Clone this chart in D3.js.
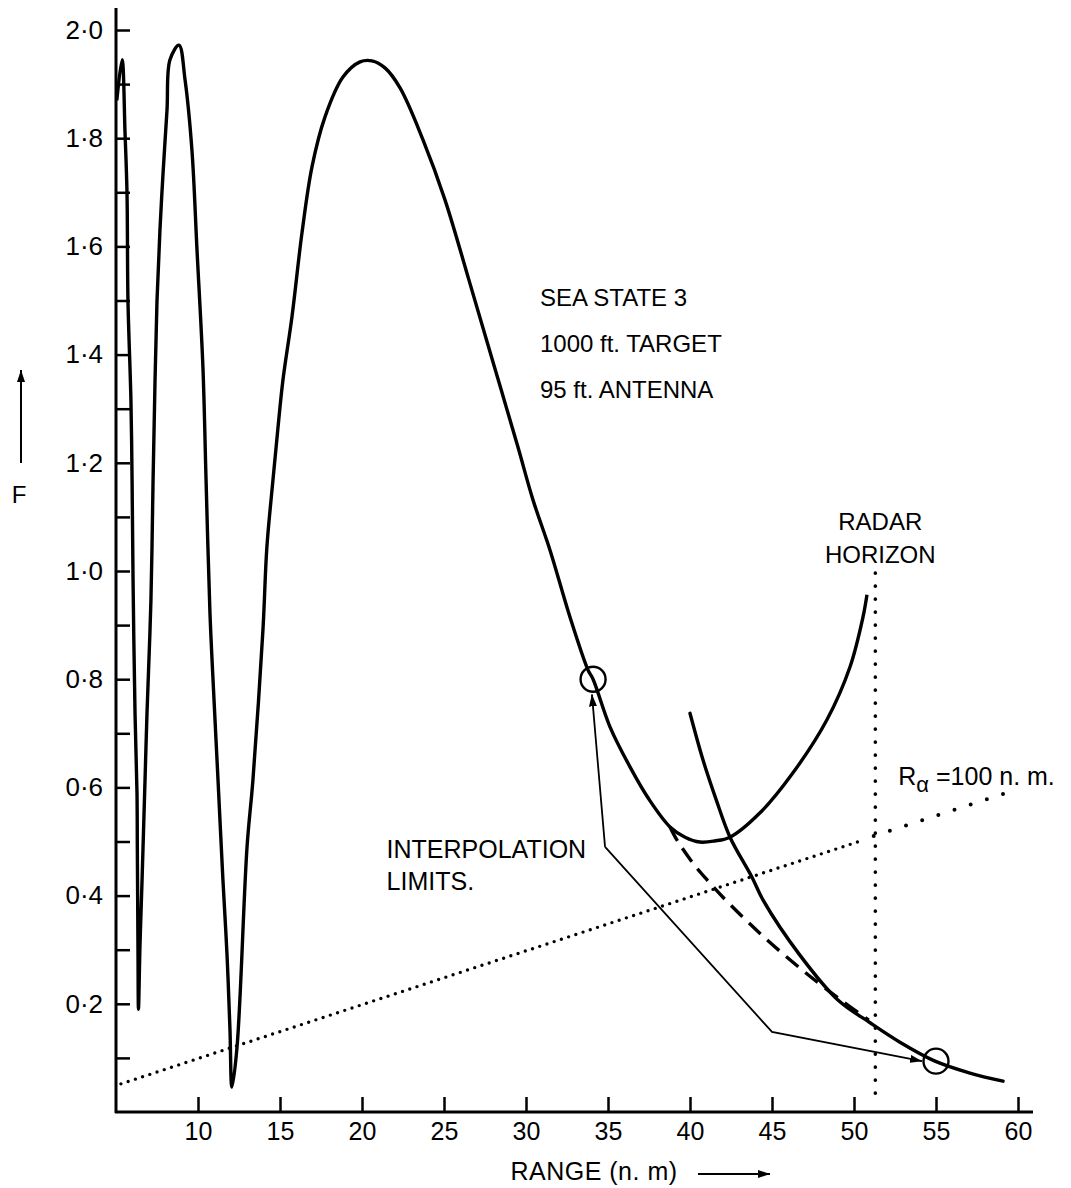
<!DOCTYPE html>
<html>
<head>
<meta charset="utf-8">
<script src="https://cdn.jsdelivr.net/npm/d3@7"></script>
<style>
  body { margin: 0; background: #fff; }
  text { font-family: "Liberation Sans", Arial, sans-serif; fill: #000; }
</style>
</head>
<body>
<svg width="1071" height="1188"></svg>
<script>
// tick values
const xTicks = [10, 15, 20, 25, 30, 35, 40, 45, 50, 55, 60];
const yMajor = [0.2, 0.4, 0.6, 0.8, 1.0, 1.2, 1.4, 1.6, 1.8, 2.0];
const yMinor = [0.1, 0.3, 0.5, 0.7, 0.9, 1.1, 1.3, 1.5, 1.7, 1.9];

// pattern propagation factor F vs range (n.m)
const mainCurve = [
  [5.05, 1.87], [5.37, 1.945], [5.55, 1.81], [5.67, 1.70], [5.73, 1.50], [5.91, 1.316],
  [5.98, 1.168], [6.04, 0.983], [6.16, 0.737], [6.28, 0.59], [6.3, 0.49], [6.34, 0.305],
  [6.37, 0.19], [6.46, 0.305], [6.59, 0.43], [6.77, 0.614], [6.89, 0.737], [7.13, 0.946],
  [7.26, 1.168], [7.38, 1.353], [7.5, 1.50], [7.68, 1.63], [7.87, 1.736], [8.11, 1.852],
  [8.29, 1.945], [8.84, 1.972], [9.21, 1.908], [9.63, 1.778], [9.94, 1.593], [10.3, 1.377],
  [10.49, 1.17], [10.73, 0.922], [10.98, 0.76], [11.22, 0.614], [11.52, 0.429], [11.77, 0.29],
  [11.95, 0.152], [12.07, 0.046], [12.38, 0.12], [12.99, 0.49], [13.35, 0.614], [13.96, 0.891],
  [14.2, 1.044], [14.57, 1.168], [14.88, 1.266], [15.18, 1.353], [15.73, 1.47], [16.34, 1.625],
  [16.95, 1.747], [17.74, 1.839], [18.84, 1.913], [19.88, 1.941], [20.6, 1.943], [21.4, 1.93],
  [22.32, 1.893], [23.72, 1.797], [25.06, 1.686], [26.5, 1.54], [28, 1.385], [29.5, 1.23],
  [30.43, 1.131], [31.46, 1.039], [32.68, 0.915], [33.78, 0.817], [34.09, 0.80], [35.12, 0.712],
  [36.34, 0.638], [37.5, 0.578], [38.78, 0.527], [39.7, 0.508], [40.6, 0.499], [41.5, 0.501],
  [42.44, 0.508], [44.27, 0.553], [46.28, 0.627], [48.35, 0.725], [49.76, 0.823], [50.55, 0.915],
  [50.79, 0.956]
];
const steepCurve = [
  [40.0, 0.737], [40.79, 0.651], [41.6, 0.577], [42.44, 0.508], [43.78, 0.434], [44.45, 0.392],
  [46.7, 0.29], [49.02, 0.207], [50.98, 0.165], [52.8, 0.129], [54.94, 0.094], [57.07, 0.072],
  [59.09, 0.057]
];
const dashedCurve = [
  [38.78, 0.527], [39.2, 0.503], [40.18, 0.46], [41.04, 0.429], [42.01, 0.397], [44.27, 0.33],
  [46.7, 0.266], [49.02, 0.211], [50.9, 0.17]
];
const rAlphaNear = [[5.3, 0.052], [50.5, 0.502]];
const rAlphaFar = [[51.2, 0.51], [59.3, 0.59]];
const horizonRange = 51.3;
const horizonF = [0.996, 0.022];
const limitPoints = [[34.09, 0.80], [55.0, 0.094]];
// annotation leader lines
const leaderUp = [[34.82, 0.49], [34.02, 0.772]];
const leaderDown = [[34.82, 0.49], [45.0, 0.148], [54.15, 0.094]];

const svg = d3.select('svg');
const x = d3.scaleLinear().domain([5, 60]).range([116, 1018]);
const y = d3.scaleLinear().domain([0, 2]).range([1112, 30]);

const defs = svg.append('defs');
defs.append('marker')
  .attr('id', 'head')
  .attr('viewBox', '0 0 12 8')
  .attr('refX', 12).attr('refY', 4)
  .attr('markerWidth', 12).attr('markerHeight', 8)
  .attr('markerUnits', 'userSpaceOnUse')
  .attr('orient', 'auto')
  .append('path').attr('d', 'M0,0 L12,4 L0,8 Z').attr('fill', '#000');

const fmt = d => d.toFixed(1).replace('.', '\u00b7');

// y axis
const yAxisG = svg.append('g').attr('transform', `translate(${x(5)},0)`)
  .call(d3.axisLeft(y).tickValues(yMajor).tickSize(-14).tickPadding(13).tickFormat(fmt));
svg.append('g').attr('transform', `translate(${x(5)},0)`)
  .call(d3.axisLeft(y).tickValues(yMinor).tickSize(-14).tickFormat(''));
svg.selectAll('.domain').remove();
svg.selectAll('.tick line').attr('stroke', '#000').attr('stroke-width', 2.5);
yAxisG.selectAll('text').attr('font-size', 26);

// x axis
const xAxisG = svg.append('g').attr('transform', `translate(0,${y(0)})`)
  .call(d3.axisBottom(x).tickValues(xTicks).tickSize(-15).tickPadding(10).tickFormat(d3.format('d')));
xAxisG.select('.domain').remove();
xAxisG.selectAll('.tick line').attr('stroke', '#000').attr('stroke-width', 2.5);
xAxisG.selectAll('text').attr('font-size', 25);

// axis lines
svg.append('line').attr('x1', x(5)).attr('x2', x(5)).attr('y1', y(0) + 1).attr('y2', 8)
  .attr('stroke', '#000').attr('stroke-width', 3);
svg.append('line').attr('x1', x(5) - 1).attr('x2', 1033).attr('y1', y(0)).attr('y2', y(0))
  .attr('stroke', '#000').attr('stroke-width', 3);

const line = d3.line().x(d => x(d[0])).y(d => y(d[1])).curve(d3.curveCatmullRom.alpha(0.5));
const straight = d3.line().x(d => x(d[0])).y(d => y(d[1]));

// curves
svg.append('path').attr('d', line(mainCurve))
  .attr('fill', 'none').attr('stroke', '#000').attr('stroke-width', 3.4).attr('stroke-linejoin', 'round');
svg.append('path').attr('d', line(steepCurve))
  .attr('fill', 'none').attr('stroke', '#000').attr('stroke-width', 3.4).attr('stroke-linecap', 'round');
svg.append('path').attr('d', line(dashedCurve))
  .attr('fill', 'none').attr('stroke', '#000').attr('stroke-width', 3.4).attr('stroke-dasharray', '16 9');

// R alpha = 100 n.m. dotted line
svg.append('path').attr('d', straight(rAlphaNear))
  .attr('fill', 'none').attr('stroke', '#000').attr('stroke-width', 3.4)
  .attr('stroke-linecap', 'round').attr('stroke-dasharray', '0 7.6');
svg.append('path').attr('d', straight(rAlphaFar))
  .attr('fill', 'none').attr('stroke', '#000').attr('stroke-width', 4)
  .attr('stroke-linecap', 'round').attr('stroke-dasharray', '0 17');

// radar horizon
svg.append('line')
  .attr('x1', x(horizonRange)).attr('x2', x(horizonRange))
  .attr('y1', y(horizonF[0])).attr('y2', y(horizonF[1]))
  .attr('stroke', '#000').attr('stroke-width', 3.6)
  .attr('stroke-linecap', 'round').attr('stroke-dasharray', '0 13');

// interpolation limits
svg.selectAll('circle.limit').data(limitPoints).enter().append('circle')
  .attr('class', 'limit')
  .attr('cx', d => x(d[0])).attr('cy', d => y(d[1])).attr('r', 12.5)
  .attr('fill', 'none').attr('stroke', '#000').attr('stroke-width', 2.4);

[leaderUp, leaderDown].forEach(pts => {
  svg.append('path').attr('d', straight(pts))
    .attr('fill', 'none').attr('stroke', '#000').attr('stroke-width', 1.8)
    .attr('marker-end', 'url(#head)');
});

// labels
const label = (tx, ty, str, anchor) => svg.append('text')
  .attr('x', tx).attr('y', ty).attr('font-size', 24)
  .attr('text-anchor', anchor || 'start').text(str);

label(x(30.85), y(1.49), 'SEA  STATE  3');
label(x(30.85), y(1.405), '1000  ft.  TARGET');
label(x(30.85), y(1.32), '95 ft.  ANTENNA');
label(x(51.6), y(1.076), 'RADAR', 'middle');
label(x(51.6), y(1.015), 'HORIZON', 'middle');
label(x(21.5), y(0.47), 'INTERPOLATION').attr('font-size', 25);
label(x(21.5), y(0.41), 'LIMITS.').attr('font-size', 25);

const ra = svg.append('text').attr('x', x(52.7)).attr('y', y(0.604)).attr('font-size', 25);
ra.append('tspan').text('R');
ra.append('tspan').attr('dy', 7).attr('font-size', 22).text('\u03b1');
ra.append('tspan').attr('dy', -7).text(' =100 n. m.');

// axis titles
label(x(29.05), 1180, 'RANGE  (n. m)').attr('font-size', 25).attr('letter-spacing', 0.5);
svg.append('line').attr('x1', 698).attr('x2', 770).attr('y1', 1174).attr('y2', 1174)
  .attr('stroke', '#000').attr('stroke-width', 2).attr('marker-end', 'url(#head)');

svg.append('line').attr('x1', 21).attr('x2', 21).attr('y1', 463).attr('y2', 370)
  .attr('stroke', '#000').attr('stroke-width', 2).attr('marker-end', 'url(#head)');
label(19, 503, 'F', 'middle');
</script>
</body>
</html>
